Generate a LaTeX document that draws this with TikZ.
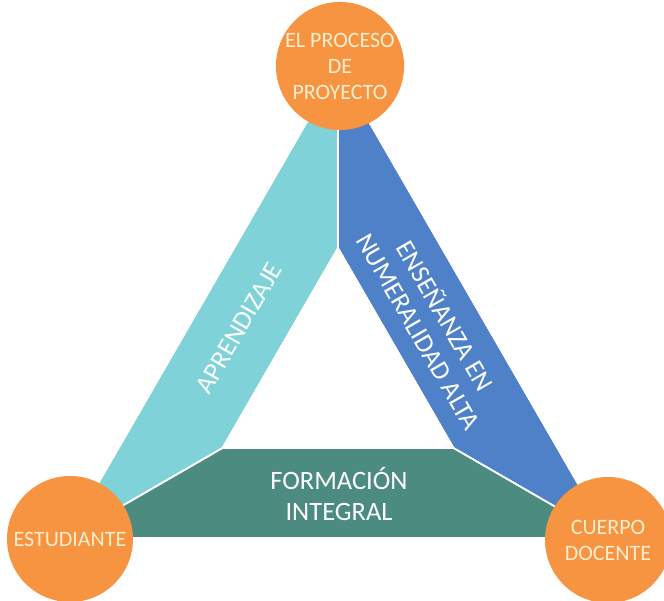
\documentclass[tikz,border=0pt]{standalone}
\usepackage{fontspec}
\setmainfont{Carlito}
\usepackage{tikz}

\definecolor{hubOrange}{RGB}{246,148,66}
\definecolor{bandTeal}{RGB}{126,210,216}
\definecolor{bandBlue}{RGB}{78,129,200}
\definecolor{bandGreen}{RGB}{76,139,128}
\definecolor{hubText}{RGB}{253,238,208}

\tikzset{
  band/.style={draw=white, line width=1.6pt, line join=miter},
  hub/.style={circle, fill=hubOrange, minimum size=126pt, inner sep=0pt,
    text=hubText, align=center, font=\fontsize{22}{26}\selectfont},
  bandlabel/.style={text=white, align=center, font=\fontsize{26.5}{31}\selectfont}
}

\begin{document}
\begin{tikzpicture}[x=1pt, y=-1pt]
\useasboundingbox (0,0) rectangle (664,601);

% Parameters (pixel units, y downwards)
\def\apx{338}
\def\apy{68}
\def\basey{538}
\def\thick{90}

% Derived quantities
\pgfmathsetmacro{\hw}{(\basey-\apy)/sqrt(3)}
\pgfmathsetmacro{\iapy}{\apy+2*\thick}
\pgfmathsetmacro{\ibasey}{\basey-\thick}
\pgfmathsetmacro{\ihw}{(\ibasey-\iapy)/sqrt(3)}

% Outer and inner triangle vertices
\coordinate (O1) at (\apx,\apy);
\coordinate (O2) at ({\apx-\hw},\basey);
\coordinate (O3) at ({\apx+\hw},\basey);
\coordinate (I1) at (\apx,\iapy);
\coordinate (I2) at ({\apx-\ihw},\ibasey);
\coordinate (I3) at ({\apx+\ihw},\ibasey);

% The three bands
\fill[band, fill=bandTeal]  (O1) -- (I1) -- (I2) -- (O2) -- cycle;
\fill[band, fill=bandBlue]  (O1) -- (O3) -- (I3) -- (I1) -- cycle;
\fill[band, fill=bandGreen] (O2) -- (I2) -- (I3) -- (O3) -- cycle;
\draw[band] (O1) -- (I1) -- (I2) -- (O2) -- cycle;
\draw[band] (O1) -- (O3) -- (I3) -- (I1) -- cycle;

% Band labels
\node[bandlabel, rotate=60]  (aprendizaje) at (239,328) {APRENDIZAJE};
\node[bandlabel, rotate=-60] (ensenanza) at (433,323) {ENSEÑANZA EN\\NUMERALIDAD ALTA};
\node[bandlabel] (formacion) at (339,494) {FORMACIÓN\\INTEGRAL};

% Corner circles
\node[hub] (proceso) at (340,66) {EL PROCESO\\DE\\PROYECTO};
\node[hub] (estudiante) at (70,539) {ESTUDIANTE};
\node[hub] (docente) at (608,540) {CUERPO\\DOCENTE};
\end{tikzpicture}
\end{document}
